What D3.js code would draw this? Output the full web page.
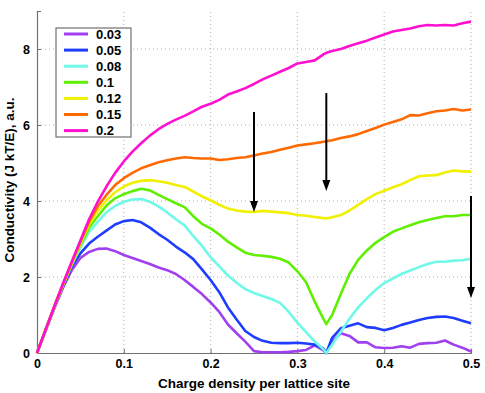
<!DOCTYPE html>
<html>
<head>
<meta charset="utf-8">
<script src="https://cdn.jsdelivr.net/npm/d3@7"></script>
<style>
  body { margin: 0; background: #fff; }
  svg { font-family: "Liberation Sans", Arial, sans-serif; font-weight: bold; }
</style>
</head>
<body>
<div id="chart"></div>
<script>
// charge density per site
var xs = [0, 0.01, 0.02, 0.03, 0.04, 0.05, 0.06, 0.07, 0.08, 0.09,
  0.10, 0.11, 0.12, 0.13, 0.14, 0.15, 0.16, 0.17, 0.18, 0.19,
  0.20, 0.21, 0.22, 0.23, 0.24, 0.25, 0.26, 0.27, 0.28, 0.29,
  0.30, 0.31, 0.32, 0.33, 0.3333, 0.34, 0.35, 0.36, 0.37, 0.38, 0.39,
  0.40, 0.41, 0.42, 0.43, 0.44, 0.45, 0.46, 0.47, 0.48, 0.49, 0.50];

var labels = ['0.03', '0.05', '0.08', '0.1', '0.12', '0.15', '0.2'];
var colors = ['#a040f0', '#1f3cff', '#70f8e8', '#5ef000', '#f0f000', '#ff6a00', '#ff10d0'];

var s003 = [0, 0.6, 1.18, 1.72, 2.18, 2.5, 2.66, 2.74, 2.75, 2.68,
  2.58, 2.5, 2.42, 2.34, 2.25, 2.18, 2.08, 1.92, 1.74, 1.55,
  1.33, 1.08, 0.75, 0.52, 0.3, 0.05, 0.02, 0.02, 0.02, 0.03,
  0.05, 0.08, 0.2, 0.07, 0, 0.3, 0.52, 0.45, 0.28, 0.28, 0.15,
  0.13, 0.14, 0.18, 0.14, 0.24, 0.26, 0.27, 0.33, 0.22, 0.14, 0.04];
var s005 = [0, 0.6, 1.2, 1.76, 2.28, 2.62, 2.88, 3.06, 3.22, 3.38,
  3.47, 3.5, 3.44, 3.3, 3.13, 2.98, 2.8, 2.65, 2.47, 2.2,
  1.92, 1.6, 1.2, 0.88, 0.58, 0.42, 0.32, 0.27, 0.26, 0.26,
  0.27, 0.25, 0.22, 0.12, 0, 0.4, 0.65, 0.72, 0.78, 0.68, 0.66,
  0.6, 0.66, 0.74, 0.8, 0.87, 0.92, 0.95, 0.96, 0.92, 0.85, 0.78];
var s008 = [0, 0.61, 1.22, 1.78, 2.32, 2.78, 3.18, 3.45, 3.7, 3.87,
  3.98, 4.04, 4.05, 3.98, 3.86, 3.7, 3.52, 3.36, 3.08, 2.82,
  2.52, 2.28, 2.04, 1.85, 1.68, 1.58, 1.5, 1.42, 1.32, 1.08,
  0.8, 0.55, 0.3, 0.1, 0, 0.22, 0.56, 0.9, 1.2, 1.44, 1.66,
  1.84, 1.96, 2.08, 2.17, 2.26, 2.34, 2.4, 2.4, 2.43, 2.44, 2.48];
var s010 = [0, 0.61, 1.22, 1.79, 2.34, 2.84, 3.3, 3.6, 3.88, 4.07,
  4.18, 4.26, 4.32, 4.28, 4.16, 4.05, 3.94, 3.84, 3.6, 3.4,
  3.28, 3.12, 2.93, 2.78, 2.64, 2.58, 2.56, 2.53, 2.48, 2.38,
  2.15, 1.86, 1.35, 0.9, 0.76, 1.0, 1.55, 2.08, 2.45, 2.7, 2.9,
  3.05, 3.19, 3.28, 3.36, 3.44, 3.5, 3.55, 3.6, 3.6, 3.63, 3.63];
var s012 = [0, 0.62, 1.22, 1.8, 2.35, 2.88, 3.38, 3.74, 4.02, 4.23,
  4.38, 4.48, 4.53, 4.55, 4.52, 4.48, 4.42, 4.37, 4.25, 4.12,
  4.02, 3.9, 3.8, 3.75, 3.72, 3.71, 3.74, 3.72, 3.7, 3.68,
  3.63, 3.61, 3.58, 3.55, 3.54, 3.57, 3.63, 3.75, 3.9, 4.05, 4.18,
  4.27, 4.36, 4.44, 4.55, 4.65, 4.67, 4.68, 4.75, 4.8, 4.78, 4.78];
var s015 = [0, 0.62, 1.23, 1.82, 2.38, 2.92, 3.45, 3.86, 4.16, 4.42,
  4.6, 4.74, 4.86, 4.94, 5.02, 5.07, 5.12, 5.15, 5.13, 5.12,
  5.12, 5.08, 5.1, 5.13, 5.15, 5.2, 5.25, 5.29, 5.35, 5.4,
  5.46, 5.49, 5.52, 5.56, 5.57, 5.6, 5.66, 5.7, 5.76, 5.84, 5.92,
  6.01, 6.08, 6.15, 6.26, 6.25, 6.31, 6.36, 6.38, 6.42, 6.38, 6.41];
var s020 = [0, 0.62, 1.23, 1.83, 2.4, 2.96, 3.52, 3.98, 4.38, 4.74,
  5.04, 5.3, 5.52, 5.72, 5.89, 6.03, 6.14, 6.24, 6.36, 6.48,
  6.56, 6.66, 6.8, 6.88, 6.97, 7.08, 7.2, 7.3, 7.4, 7.5,
  7.62, 7.66, 7.7, 7.86, 7.9, 7.95, 8.0, 8.08, 8.15, 8.22, 8.3,
  8.38, 8.46, 8.5, 8.54, 8.6, 8.63, 8.62, 8.63, 8.62, 8.68, 8.72];

var series = [s003, s005, s008, s010, s012, s015, s020];

// arrows: x, from y, to y
var arrowX = [0.25, 0.3333, 0.5];
var arrowTop = [6.34, 6.84, 4.13];
var arrowEnd = [3.71, 4.26, 1.45];

var xTicks = [0, 0.1, 0.2, 0.3, 0.4, 0.5];
var yTicks = [0, 2, 4, 6, 8];

var W = 485, H = 393;
var margin = {left: 37, right: 14, top: 11, bottom: 40};

var svg = d3.select('#chart').append('svg')
  .attr('width', W)
  .attr('height', H);

var x = d3.scaleLinear().domain([0, 0.5]).range([margin.left, W - margin.right]);
var y = d3.scaleLinear().domain([0, 9]).range([H - margin.bottom, margin.top]);

// grid
svg.append('g').selectAll('line.gx').data(xTicks.slice(1))
  .enter().append('line')
    .attr('x1', function(d) { return x(d); })
    .attr('x2', function(d) { return x(d); })
    .attr('y1', y(0))
    .attr('y2', y(9))
    .attr('stroke', '#b0b0b0')
    .attr('stroke-width', 1)
    .attr('stroke-dasharray', '1,3');
svg.append('g').selectAll('line.gy').data(yTicks.slice(1))
  .enter().append('line')
    .attr('x1', x(0))
    .attr('x2', x(0.5))
    .attr('y1', function(d) { return y(d); })
    .attr('y2', function(d) { return y(d); })
    .attr('stroke', '#b0b0b0')
    .attr('stroke-width', 1)
    .attr('stroke-dasharray', '1,3');

// axes
var xAxis = svg.append('g')
  .attr('transform', 'translate(0,' + y(0) + ')')
  .call(d3.axisBottom(x).tickValues(xTicks).tickSize(-4).tickPadding(6)
    .tickFormat(function(d) { return d === 0 ? '0' : d3.format('.1f')(d); }));
var yAxis = svg.append('g')
  .attr('transform', 'translate(' + x(0) + ',0)')
  .call(d3.axisLeft(y).tickValues(yTicks).tickSize(-4).tickPadding(7));
[xAxis, yAxis].forEach(function(a) {
  a.select('.domain').attr('stroke', '#707070').attr('stroke-width', 1.2);
  a.selectAll('.tick line').attr('stroke', '#707070');
  a.selectAll('.tick text')
    .attr('fill', '#000')
    .style('font-size', '12.5px')
    .style('font-weight', 'bold');
});

// curves
var line = d3.line()
  .x(function(d, i) { return x(xs[i]); })
  .y(function(d) { return y(d); });

svg.append('g').selectAll('path.curve').data(series)
  .enter().append('path')
    .attr('class', 'curve')
    .attr('d', line)
    .attr('fill', 'none')
    .attr('stroke', function(d, i) { return colors[i]; })
    .attr('stroke-width', 2.6)
    .attr('stroke-linejoin', 'round');

// arrows
var arrows = svg.append('g');
arrowX.forEach(function(ax, i) {
  var px = x(ax), top = y(arrowTop[i]), tip = y(arrowEnd[i]);
  arrows.append('line')
    .attr('x1', px).attr('x2', px)
    .attr('y1', top).attr('y2', tip - 8)
    .attr('stroke', '#000')
    .attr('stroke-width', 2);
  arrows.append('path')
    .attr('d', 'M' + (px - 4) + ',' + (tip - 11) + 'L' + (px + 4) + ',' + (tip - 11) + 'L' + px + ',' + tip + 'Z')
    .attr('fill', '#000');
});

// legend
var lg = svg.append('g').attr('transform', 'translate(56,28)');
lg.append('rect')
  .attr('width', 75)
  .attr('height', 109)
  .attr('fill', '#fff')
  .attr('stroke', '#707070')
  .attr('stroke-width', 1.2);
var rows = lg.selectAll('g.row').data(labels)
  .enter().append('g')
    .attr('transform', function(d, i) { return 'translate(0,' + (6 + i * 16.1) + ')'; });
rows.append('line')
  .attr('x1', 8).attr('x2', 32)
  .attr('stroke', function(d, i) { return colors[i]; })
  .attr('stroke-width', 3);
rows.append('text')
  .attr('x', 40)
  .attr('dy', '0.36em')
  .style('font-size', '13px')
  .text(function(d) { return d; });

// axis labels
svg.append('text')
  .attr('x', x(0.25))
  .attr('y', 388)
  .attr('text-anchor', 'middle')
  .style('font-size', '13.5px')
  .text('Charge density per lattice site');
svg.append('text')
  .attr('transform', 'translate(14,' + y(4.55) + ') rotate(-90)')
  .attr('text-anchor', 'middle')
  .style('font-size', '13.5px')
  .text('Conductivity (J kT/E), a.u.');
</script>
</body>
</html>
